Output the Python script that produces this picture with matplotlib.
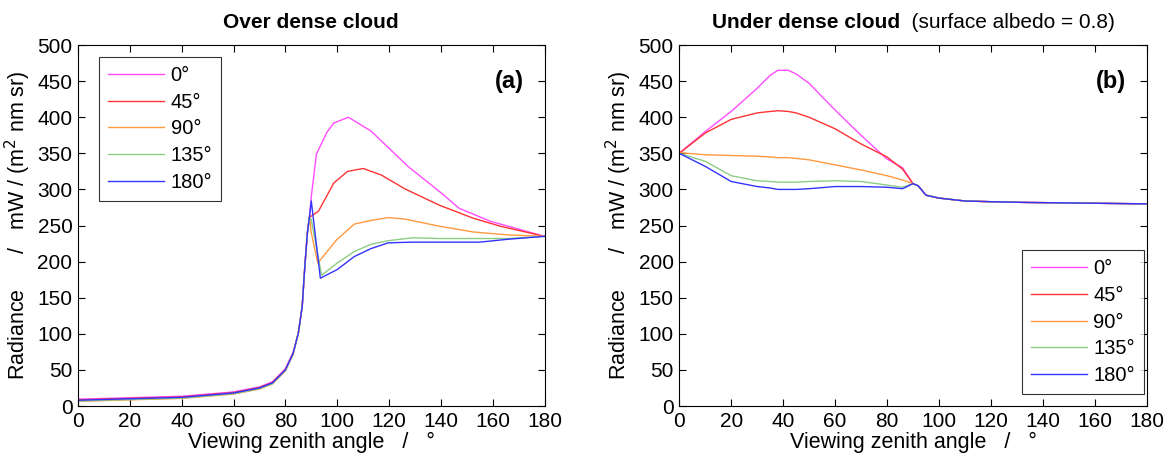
import numpy as np
import matplotlib
matplotlib.use("Agg")
import matplotlib.pyplot as plt

plt.rcParams['font.family'] = ['Liberation Sans', 'DejaVu Sans']

labels = ['0°', '45°', '90°', '135°', '180°']
colors = ['#ff4cff', '#ff3333', '#ff9a40', '#8ccc84', '#3333ff']

# common low-angle part for panel (a)
x_low = [0, 20, 40, 60, 70, 75, 80, 83, 85, 86.5, 87.5, 88.5, 89.3]
y_low = [8, 10, 12, 18, 25, 32, 50, 73, 101, 138, 193, 240, 262]

# panel (a) over dense cloud, after the limb
xa = {
    '0°':   [90, 92, 96, 98.7, 104.3, 113, 119.7, 127.6, 139.5, 147, 159, 166, 180],
    '45°':  [90, 92.8, 98.7, 104, 110, 117, 126, 139.5, 152.6, 163, 180],
    '90°':  [90, 92.5, 100, 106.6, 113, 119.7, 126, 139.5, 152.6, 166, 180],
    '135°': [90, 94, 100, 106.6, 113, 119.7, 129, 140, 155, 166, 180],
    '180°': [90, 93.5, 100, 106.6, 113, 119.7, 129, 140, 155, 166, 180],
}
ya = {
    '0°':   [290, 349, 379, 392, 400, 381, 358, 331, 297, 274, 256, 249, 235],
    '45°':  [263, 270, 309, 325, 329, 320, 301, 278, 260, 249, 235],
    '90°':  [240, 198, 231, 252, 257, 261, 259, 249, 241, 237, 235],
    '135°': [258, 181, 198, 214, 224, 229, 233, 232, 232, 232, 235],
    '180°': [284, 177, 189, 207, 218, 226, 227, 227, 227, 231, 235],
}
low_offset = {'0°': 1.5, '45°': 0.5, '90°': -1.5, '135°': -1, '180°': 0}

# panel (b) under dense cloud
xb_low = [0, 10, 20, 30, 35, 38, 42, 45, 50, 60, 70, 80, 86, 90]
yb = {
    '0°':   [350, 380, 408, 440, 458, 465, 465, 460, 447, 410, 375, 342, 330, 308],
    '45°':  [350, 378, 397, 406, 408, 409, 408, 406, 400, 384, 363, 345, 328, 308],
    '90°':  [351, 348, 347, 346, 345, 344, 344, 343, 341, 334, 327, 319, 313, 308],
    '135°': [350, 339, 319, 312, 311, 310, 310, 310, 311, 312, 311, 306, 303, 308],
    '180°': [350, 332, 311, 304, 302, 300, 300, 300, 301, 304, 304, 303, 301, 308],
}
xb_high = [92, 95, 100, 105, 110, 120, 133, 180]
yb_high = [305, 292, 288, 286, 284, 283, 282, 280]

fig = plt.figure(figsize=(11.72, 4.61), dpi=100)
ax1 = fig.add_axes([0.0666, 0.1193, 0.398, 0.783])
ax2 = fig.add_axes([0.5795, 0.1193, 0.399, 0.783])

for lab, c in zip(labels, colors):
    xs = x_low + xa[lab]
    ys = [v + low_offset[lab] * (i < 8) for i, v in enumerate(y_low)] + ya[lab]
    ax1.plot(xs, ys, color=c, lw=1.0, label=lab)
    ax2.plot(xb_low + xb_high, yb[lab] + yb_high, color=c, lw=1.0, label=lab)

for ax in (ax1, ax2):
    ax.set_xlim(0, 180)
    ax.set_ylim(0, 500)
    ax.set_xticks(np.arange(0, 181, 20))
    ax.set_yticks(np.arange(0, 501, 50))
    ax.tick_params(direction='in', top=True, right=True, labelsize=15, length=5, pad=4)
    ax.set_xlabel('Viewing zenith angle   /   °', fontsize=15.5, labelpad=1)
    ax.set_ylabel('Radiance      /   mW / (m$^2$ nm sr)', fontsize=15.5, labelpad=3)
    for s in ax.spines.values():
        s.set_linewidth(0.8)

ax1.set_title('Over dense cloud', fontsize=15, fontweight='bold', pad=12)
t2 = ax2.text(0.0705, 1.0, 'Under dense cloud', transform=ax2.transAxes, fontsize=15,
              fontweight='bold', ha='left', va='baseline')
t2.set_transform(ax2.transAxes + matplotlib.transforms.ScaledTranslation(0, 12 / 72, fig.dpi_scale_trans))
ax2.annotate('  (surface albedo = 0.8)', xy=(1, 0), xycoords=t2, fontsize=15,
             ha='left', va='bottom')

ax1.text(0.955, 0.9, '(a)', transform=ax1.transAxes, fontsize=17, fontweight='bold',
         ha='right', va='center')
ax2.text(0.955, 0.9, '(b)', transform=ax2.transAxes, fontsize=17, fontweight='bold',
         ha='right', va='center')

leg_kw = dict(fontsize=14.5, frameon=True, fancybox=False, edgecolor='black',
              handlelength=2.8, labelspacing=0.38, borderpad=0.45, handletextpad=0.3,
              borderaxespad=0)
l1 = ax1.legend(loc='upper left', bbox_to_anchor=(0.045, 0.967), **leg_kw)
l2 = ax2.legend(loc='lower right', bbox_to_anchor=(0.994, 0.033), **leg_kw)
for l in (l1, l2):
    l.get_frame().set_linewidth(0.8)

fig.savefig('out.png', dpi=100)
